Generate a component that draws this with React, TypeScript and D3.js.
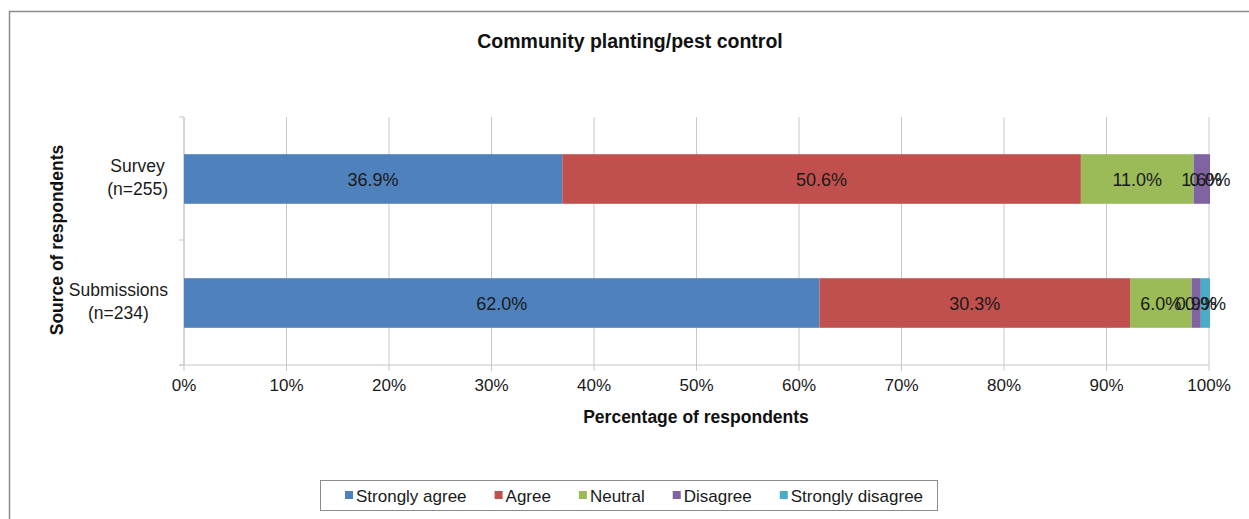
import React from "react";
import * as d3 from "d3";

const categories = ["Survey\n(n=255)", "Submissions\n(n=234)"];
const seriesNames = ["Strongly agree", "Agree", "Neutral", "Disagree", "Strongly disagree"];
const seriesColors = ["#4f81bd", "#c0504d", "#9bbb59", "#8064a2", "#4bacc6"];
const stronglyAgree = [36.9, 62.0];
const agree = [50.6, 30.3];
const neutral = [11.0, 6.0];
const disagree = [1.6, 0.9];
const stronglyDisagree = [0.0, 0.9];
const xTicks = [0, 10, 20, 30, 40, 50, 60, 70, 80, 90, 100];

const W = 1249, H = 519;
const FONT = "'Liberation Sans', Arial, sans-serif";

function measure(text: string, size: number, bold = false): number {
  if (typeof document === "undefined") return text.length * size * 0.55;
  const c = document.createElement("canvas").getContext("2d");
  if (!c) return text.length * size * 0.55;
  c.font = `${bold ? "bold " : ""}${size}px ${FONT}`;
  return c.measureText(text).width;
}

export default function App() {
  const series = [stronglyAgree, agree, neutral, disagree, stronglyDisagree];
  const x = d3.scaleLinear().domain([0, 100]).range([184, 1209]);
  const y = d3.scaleBand().domain(categories).range([117, 365]).paddingInner(0.6).paddingOuter(0.3);
  const bandFull = d3.scaleBand().domain(categories).range([117, 365]);

  const bars: any[] = [];
  categories.forEach((c, ci) => {
    let acc = 0;
    series.forEach((s, si) => {
      const v = s[ci];
      const x0 = x(acc), x1 = x(acc + v);
      acc += v;
      bars.push({ key: `${ci}-${si}`, x0, x1, y0: y(c)!, h: y.bandwidth(), color: seriesColors[si], label: v.toFixed(1) + "%" });
    });
  });

  const legendSize = 17;
  const legendItems: { name: string; mx: number; tx: number }[] = [];
  let lx = 345;
  seriesNames.forEach(name => {
    legendItems.push({ name, mx: lx, tx: lx + 11 });
    lx += 11 + measure(name, legendSize) + 28;
  });
  const catSize = 17.5;

  return (
    <svg width={W} height={H} style={{ position: "absolute", left: 0, top: 0, fontFamily: FONT }}>
      <rect x={0} y={0} width={W} height={H} fill="#fff" />
      <path d={`M9.5,${H} V11.5 H${W}`} fill="none" stroke="#8c8c8c" strokeWidth={1.5} />
      <text x={630} y={48} textAnchor="middle" fontSize={19.5} fontWeight="bold" fill="#111">Community planting/pest control</text>

      {xTicks.map(t => (
        <line key={"g" + t} x1={x(t)} x2={x(t)} y1={117} y2={371} stroke="#c8c8c8" strokeWidth={1} />
      ))}
      <line x1={179} x2={x(100)} y1={365} y2={365} stroke="#c8c8c8" />
      <line x1={184} x2={184} y1={117} y2={365} stroke="#c8c8c8" />
      {[117, 240, 365].map(v => (
        <line key={"yt" + v} x1={179} x2={184} y1={v} y2={v} stroke="#c8c8c8" />
      ))}

      {bars.map(b => (
        <rect key={b.key} x={b.x0} y={b.y0} width={Math.max(0, b.x1 - b.x0)} height={b.h} fill={b.color} />
      ))}
      {bars.map(b => (
        <text key={"l" + b.key} x={(b.x0 + b.x1) / 2} y={b.y0 + b.h / 2 + 6.5} textAnchor="middle" fontSize={18} fill="#1a1a1a">{b.label}</text>
      ))}

      {xTicks.map(t => (
        <text key={"t" + t} x={x(t)} y={391} textAnchor="middle" fontSize={17} fill="#1a1a1a">{t}%</text>
      ))}
      <text x={696} y={423} textAnchor="middle" fontSize={17.5} fontWeight="bold" fill="#111">Percentage of respondents</text>

      {categories.map(c => {
        const lines = c.split("\n");
        const cy = bandFull(c)! + bandFull.bandwidth() / 2;
        const maxW = Math.max(...lines.map(l => measure(l, catSize)));
        const cx = 168 - maxW / 2;
        return (
          <text key={c} textAnchor="middle" fontSize={catSize} fill="#1a1a1a">
            <tspan x={cx} y={cy - 7}>{lines[0]}</tspan>
            <tspan x={cx} y={cy + 16}>{lines[1]}</tspan>
          </text>
        );
      })}
      <text transform="translate(63,240) rotate(-90)" textAnchor="middle" fontSize={17.5} fontWeight="bold" fill="#111">Source of respondents</text>

      <rect x={320.5} y={480.5} width={617} height={30} fill="#fff" stroke="#8c8c8c" />
      {legendItems.map((it, i) => (
        <g key={it.name}>
          <rect x={it.mx} y={491} width={8} height={8} fill={seriesColors[i]} />
          <text x={it.tx} y={502} fontSize={legendSize} fill="#1a1a1a">{it.name}</text>
        </g>
      ))}
    </svg>
  );
}
